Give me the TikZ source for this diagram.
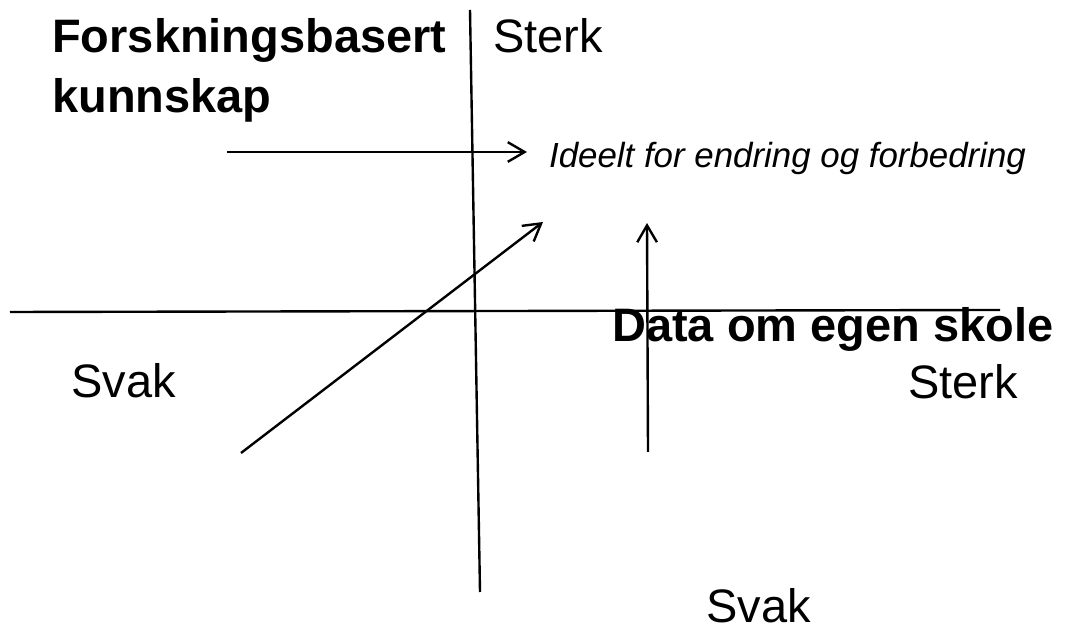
\documentclass[tikz,border=0pt]{standalone}
\usepackage{fontspec}
\setmainfont{Liberation Sans}
\usepackage{tikz}
\usetikzlibrary{arrows.meta, positioning}

\tikzset{
  lbl/.style={inner sep=0pt, anchor=base west, font=\fontsize{33.4}{42.7}\selectfont},
  axis/.style={line width=1.7pt},
  arr/.style={line width=1.7pt, -{Straight Barb[length=12pt,width=14pt,line width=1.7pt]}}
}

\begin{document}
\begin{tikzpicture}
\useasboundingbox (0,0) rectangle (26.65,15.8);

\node [lbl, align=left, font=\fontsize{33.4}{42.7}\selectfont\bfseries] (FK) at (1.3,12.975) {Forskningsbasert\\kunnskap};
\node [lbl] (S1) at (12.325,14.475) {Sterk};

\node [lbl, font=\fontsize{24.8}{29}\selectfont\itshape] (ID) at (13.72,11.6) {Ideelt for endring og forbedring};

\node [lbl, font=\fontsize{33.4}{42.7}\selectfont\bfseries] (DS) at (15.3,7.25) {Data om egen skole};

\node [lbl] (SV1) at (1.775,5.85) {Svak};
\node [lbl] (S2) at (22.7,5.825) {Sterk};
\node [lbl] (SV2) at (17.65,0.225) {Svak};

\coordinate (Vt) at (11.75,15.55);
\coordinate (Vb) at (12.0,1.0);
\coordinate (Hl) at (0.25,8.0);
\coordinate (Hr) at (25.0,8.05);

\coordinate (A1) at (5.675,12.0);
\coordinate (B1) at (13.175,12.0);
\coordinate (A2) at (6.025,4.475);
\coordinate (B2) at (13.575,10.25);
\coordinate (A3) at (16.2,4.5);
\coordinate (B3) at (16.175,10.225);

\foreach \s/\t in {Vt/Vb,
                   Hl/Hr}
    \draw [axis] (\s) -- (\t);

\foreach \s/\t in {A1/B1,
                   A2/B2,
                   A3/B3}
    \draw [arr] (\s) -- (\t);

\end{tikzpicture}
\end{document}
